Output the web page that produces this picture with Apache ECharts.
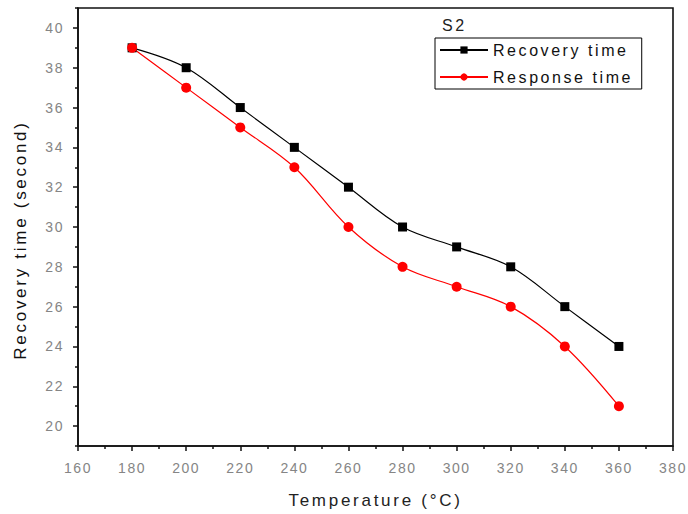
<!DOCTYPE html>
<html>
<head>
<meta charset="utf-8">
<script src="https://cdn.jsdelivr.net/npm/echarts@6/dist/echarts.min.js"></script>
<style>html,body{margin:0;padding:0;background:#fff}#c{width:688px;height:514px}</style>
</head>
<body>
<div id="c"></div>
<script>
const temperatures = [180, 200, 220, 240, 260, 280, 300, 320, 340, 360];
const recoveryTime = [39, 38, 36, 34, 32, 30, 29, 28, 26, 24];
const responseTime = [39, 37, 35, 33, 30, 28, 27, 26, 24, 21];
const yMajorTicks = [20, 22, 24, 26, 28, 30, 32, 34, 36, 38, 40];
const yMinorTicks = [19, 21, 23, 25, 27, 29, 31, 33, 35, 37, 39, 41];

const chart = echarts.init(document.getElementById('c'), null, {renderer: 'svg'});
const font = 'Liberation Sans, Arial, sans-serif';
chart.setOption({
  animation: false,
  backgroundColor: '#fff',
  title: {
    text: 'S2', left: 437, top: 12,
    textStyle: {fontFamily: font, fontSize: 16, fontWeight: 'normal', color: '#222'}
  },
  legend: {
    orient: 'vertical', left: 435, top: 38,
    borderColor: '#000', borderWidth: 1, padding: [4, 42, 4, 4],
    itemWidth: 48, itemHeight: 9, itemGap: 11,
    textStyle: {fontFamily: font, fontSize: 16, color: '#111'},
    data: ['Recovery time', 'Response time']
  },
  grid: {left: 78, right: 15, top: 8, bottom: 68, show: true, borderColor: '#111', borderWidth: 1.6},
  xAxis: {
    type: 'value', min: 160, max: 380, interval: 20,
    name: 'Temperature (°C)', nameLocation: 'middle', nameGap: 46,
    nameTextStyle: {fontFamily: font, fontSize: 17, color: '#222'},
    axisLine: {lineStyle: {color: '#111', width: 1.6}},
    axisTick: {length: 5, lineStyle: {color: '#111', width: 1.5}},
    minorTick: {show: true, splitNumber: 2, length: 3, lineStyle: {color: '#111', width: 1.5}},
    axisLabel: {fontFamily: font, fontSize: 14, color: '#858585', margin: 15},
    splitLine: {show: false}
  },
  yAxis: [{
    type: 'value', min: 19, max: 41, interval: 1, position: 'left',
    name: 'Recovery time (second)', nameLocation: 'middle', nameGap: 49,
    nameTextStyle: {fontFamily: font, fontSize: 17, color: '#111', padding: [0, 26, 0, 0]},
    axisLine: {show: true, lineStyle: {color: '#111', width: 1.6}},
    axisTick: {show: true, length: 5, customValues: yMajorTicks, lineStyle: {color: '#111', width: 1.5}},
    axisLabel: {fontFamily: font, fontSize: 14, color: '#858585', margin: 14, customValues: yMajorTicks},
    splitLine: {show: false}
  }, {
    type: 'value', min: 19, max: 41, interval: 1, position: 'left', offset: 0,
    axisLine: {show: false},
    axisTick: {show: true, length: 3, customValues: yMinorTicks, lineStyle: {color: '#111', width: 1.5}},
    axisLabel: {show: false},
    splitLine: {show: false}
  }],
  series: [{
    name: 'Recovery time', type: 'line', yAxisIndex: 0,
    data: temperatures.map((t, i) => [t, recoveryTime[i]]),
    smooth: 0.35, symbol: 'rect', symbolSize: 9,
    lineStyle: {color: '#000', width: 1.2}, itemStyle: {color: '#000'}
  }, {
    name: 'Response time', type: 'line', yAxisIndex: 0,
    data: temperatures.map((t, i) => [t, responseTime[i]]),
    smooth: 0.35, symbol: 'circle', symbolSize: 10,
    lineStyle: {color: '#ff0000', width: 1.2}, itemStyle: {color: '#ff0000'}
  }]
});

function spaceText() {
  document.querySelectorAll('#c svg text').forEach(function (t) {
    const fs = parseFloat(getComputedStyle(t).fontSize) || 14;
    t.style.letterSpacing = (fs <= 14 ? 0.11 : 0.16) + 'em';
  });
}
spaceText();
chart.on('finished', spaceText);
</script>
</body>
</html>
